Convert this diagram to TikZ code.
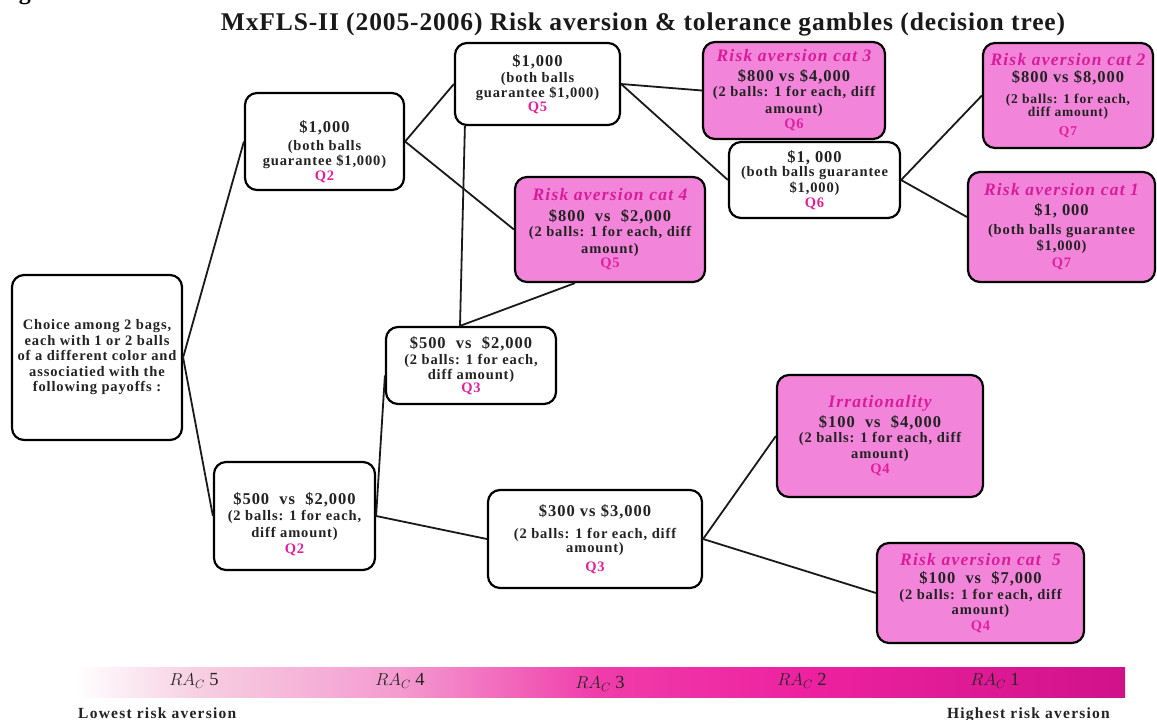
\documentclass[tikz,border=0pt]{standalone}
\usepackage{fontspec}
\setmainfont{Liberation Serif}
\newfontfamily\boxfont[LetterSpace=6]{Liberation Serif}
\newfontfamily\catfont[LetterSpace=7]{Liberation Serif}
\newfontfamily\titlefont[LetterSpace=3.5]{Liberation Serif}
\newfontfamily\endfont[LetterSpace=8]{Liberation Serif}
\usetikzlibrary{calc}

\definecolor{boxpink}{HTML}{F285DA}
\definecolor{catmag}{HTML}{D81C9A}
\definecolor{qmag}{HTML}{E0209E}
\definecolor{inkgray}{HTML}{222222}

\tikzset{
  box/.style={draw=black, line width=2.2pt, rounded corners=12pt, fill=white,
    align=center, inner sep=2pt, text=inkgray,
    font=\boxfont\bfseries\fontsize{14.5}{16.5}\selectfont},
  pinkbox/.style={box, fill=boxpink},
  link/.style={line width=1.8pt, draw=black!90},
  ralabel/.style={font=\fontsize{18.5}{20}\selectfont, text=black!85},
  endlabel/.style={font=\endfont\bfseries\fontsize{15.5}{17}\selectfont, text=inkgray},
}
\newcommand{\amt}[1]{{\fontsize{16.5}{18}\selectfont #1}}
\newcommand{\cattitle}[1]{{\catfont\bfseries\itshape\fontsize{17.5}{19}\selectfont\color{catmag}#1}}
\newcommand{\qlab}[1]{{\color{qmag}#1}}

\begin{document}
\begin{tikzpicture}[x=1pt,y=-1pt]
\useasboundingbox (0,0) rectangle (1157,720);
\fill[white] (0,0) rectangle (1157,720);

% caption fragment and title
\node[anchor=base, inner sep=0, font=\bfseries\fontsize{24}{26}\selectfont] (cap) at (25,-1) {g};
\node[anchor=base, inner sep=0, font=\titlefont\bfseries\fontsize{25.5}{28}\selectfont, text=black!90] (title) at (643,30)
  {MxFLS-II (2005-2006) Risk aversion \& tolerance gambles (decision tree)};

% decision boxes
\node[box, minimum width=170pt, minimum height=165pt,
      font=\boxfont\bfseries\fontsize{14.5}{15.5}\selectfont] (root) at (97,357.5)
  {Choice among 2 bags,\\ each with 1 or 2 balls\\ of a different color and\\ associatied with the\\ following payoffs :};

\node[box, minimum width=159pt, minimum height=97pt] (q2a) at (324.5,141.5)
  {\rule{0pt}{32pt}\amt{\$1,000}\\[1pt] (both balls\\[-1pt] guarantee \$1,000)\\[-2pt] \qlab{Q2}};

\node[box, minimum width=161pt, minimum height=108pt] (q2b) at (294.5,516)
  {\rule{0pt}{28pt}\amt{\$500 \ vs \ \$2,000}\\ (2 balls: 1 for each,\\ diff amount)\\ \qlab{Q2}};

\node[box, minimum width=170pt, minimum height=77pt] (q3a) at (471,365.5)
  {\amt{\$500 \ vs \ \$2,000}\\[-1pt] (2 balls: 1 for each,\\[-1pt] diff amount)\\[-4pt] \qlab{Q3}};

\node[box, minimum width=165pt, minimum height=82pt] (q5) at (537.5,84)
  {\amt{\$1,000}\\[-1pt] (both balls\\[-1pt] guarantee \$1,000)\\[-3pt] \qlab{Q5}};

\node[pinkbox, minimum width=190pt, minimum height=105pt] (cat4) at (610,229.5)
  {\cattitle{Risk aversion cat 4}\\[4pt] \amt{\$800 \ vs \ \$2,000}\\[-1pt] (2 balls: 1 for each, diff\\ amount)\\[-2pt] \qlab{Q5}};

\node[pinkbox, minimum width=182pt, minimum height=97pt] (cat3) at (794,90.5)
  {\cattitle{Risk aversion cat 3}\\[3pt] \amt{\$800 vs \$4,000}\\[-1pt] (2 balls: 1 for each, diff\\ amount)\\[-1pt] \qlab{Q6}};

\node[box, minimum width=171pt, minimum height=76pt] (q6) at (814.5,180)
  {\amt{\$1, 000}\\[-2pt] (both balls guarantee\\[-1pt] \$1,000)\\[-1pt] \qlab{Q6}};

\node[pinkbox, minimum width=170pt, minimum height=105pt,
      font=\boxfont\bfseries\fontsize{13.5}{13.5}\selectfont] (cat2) at (1068,95.5)
  {\cattitle{Risk aversion cat 2}\\[4pt] \amt{\$800 vs \$8,000}\\[7pt] (2 balls: 1 for each,\\ diff amount)\\[5pt] \qlab{Q7}};

\node[pinkbox, minimum width=187pt, minimum height=110pt] (cat1) at (1061.5,227)
  {\cattitle{Risk aversion cat 1}\\[3pt] \amt{\$1, 000}\\[3pt] (both balls guarantee\\[-1pt] \$1,000)\\[1pt] \qlab{Q7}};

\node[box, minimum width=214pt, minimum height=98pt] (q3b) at (595,539)
  {\amt{\$300 vs \$3,000}\\[6pt] (2 balls: 1 for each, diff\\[-3pt] amount)\\[3pt] \qlab{Q3}};

\node[pinkbox, minimum width=206pt, minimum height=122pt] (irr) at (880,436)
  {\cattitle{Irrationality}\\[3pt] \amt{\$100 \ vs \ \$4,000}\\[-1pt] (2 balls: 1 for each, diff\\[-1pt] amount)\\[-1pt] \qlab{Q4}};

\node[pinkbox, minimum width=207pt, minimum height=100pt] (cat5) at (980.5,593)
  {\cattitle{Risk aversion cat \ 5}\\[2pt] \amt{\$100 \ vs \ \$7,000}\\[-1pt] (2 balls: 1 for each, diff\\[-1pt] amount)\\[-1pt] \qlab{Q4}};

% branches
\coordinate (q3top) at ($(q3a.north)+(-11,0)$);
\coordinate (q5foot) at ($(q5.south west)+(11,0)$);
\coordinate (cat4foot) at ($(cat4.south)+(-35,0)$);

\draw[link] (root.east) -- (q2a.west);
\draw[link] (root.east) -- (q2b.west);
\draw[link] (q2a.east) -- (q5.west);
\draw[link] (q2a.east) -- (cat4.west);
\draw[link] (q5.east) -- (cat3.west);
\draw[link] (q5.east) -- (q6.west);
\draw[link] (q6.east) -- (cat2.west);
\draw[link] (q6.east) -- ($(cat1.west)+(0,-10)$);
\draw[link] (q2b.east) -- ($(q3a.west)+(0,10)$);
\draw[link] (q2b.east) -- (q3b.west);
\draw[link] (q3top) -- (q5foot);
\draw[link] (q3top) -- (cat4foot);
\draw[link] (q3b.east) -- (irr.west);
\draw[link] (q3b.east) -- (cat5.west);

% risk aversion scale
\shade[left color=white, right color={rgb,255:red,247;green,208;blue,226}] (75,667) rectangle (195.5,697);
\shade[left color={rgb,255:red,247;green,208;blue,226}, right color={rgb,255:red,244;green,154;blue,208}] (195,667) rectangle (400.5,697);
\shade[left color={rgb,255:red,244;green,154;blue,208}, right color={rgb,255:red,240;green,60;blue,170}] (400,667) rectangle (600.5,697);
\shade[left color={rgb,255:red,240;green,60;blue,170}, right color={rgb,255:red,238;green,34;blue,160}] (600,667) rectangle (800.5,697);
\shade[left color={rgb,255:red,238;green,34;blue,160}, right color={rgb,255:red,208;green,18;blue,138}] (800,667) rectangle (1125,697);

\node[ralabel] (ra5) at (194,681) {$RA_C$ 5};
\node[ralabel] (ra4) at (400,681) {$RA_C$ 4};
\node[ralabel] (ra3) at (600,684) {$RA_C$ 3};
\node[ralabel] (ra2) at (802,681) {$RA_C$ 2};
\node[ralabel] (ra1) at (995,681) {$RA_C$ 1};

\node[endlabel, anchor=base west, inner sep=0] (low) at (78,718) {Lowest risk aversion};
\node[endlabel, anchor=base east, inner sep=0] (high) at (1110,718) {Highest risk aversion};
\end{tikzpicture}
\end{document}
